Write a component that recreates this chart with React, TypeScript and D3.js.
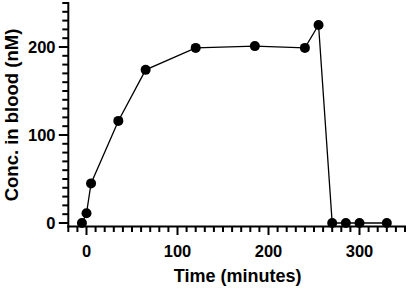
import React from "react";
import * as d3 from "d3";

const timeMinutes = [-5, 0, 5, 35, 65, 120, 185, 240, 255, 270, 285, 300, 330];
const concNM = [0, 11, 45, 116, 174, 199, 201, 199, 225, 0, 0, 0, 0];
const xMajorTicks = [0, 100, 200, 300];
const yMajorTicks = [0, 100, 200];
const xLabel = "Time (minutes)";
const yLabel = "Conc. in blood (nM)";

const W = 408;
const H = 290;
const font = "'Liberation Sans', Arial, sans-serif";

export default function App() {
  const x = d3.scaleLinear().domain([-20, 350]).range([68.3, 405]);
  const y = d3.scaleLinear().domain([-4, 250]).range([226.5, 3]);
  const xMinor = d3.range(-20, 351, 10);
  const yMinor = d3.range(0, 251, 10);
  const line = d3
    .line<number>()
    .x((_, i) => x(timeMinutes[i]))
    .y((d) => y(d));
  const axisY = y(-4);
  const axisX = x(-20);
  return (
    <svg width={W} height={H} style={{ position: "absolute", left: 0, top: 0 }}>
      <rect width={W} height={H} fill="#fff" />
      {/* x axis */}
      <line x1={axisX - 1} x2={x(350) + 1} y1={axisY} y2={axisY} stroke="#000" strokeWidth={2} />
      {xMinor.map((t) => (
        <line
          key={"xm" + t}
          x1={x(t)}
          x2={x(t)}
          y1={axisY}
          y2={axisY + (t % 100 === 0 ? 8.5 : 5.5)}
          stroke="#000"
          strokeWidth={2}
        />
      ))}
      {xMajorTicks.map((t) => (
        <text
          key={"xl" + t}
          x={x(t)}
          y={256.5}
          textAnchor="middle"
          fontFamily={font}
          fontWeight="bold"
          fontSize={16.5}
        >
          {t}
        </text>
      ))}
      {/* y axis */}
      <line x1={axisX} x2={axisX} y1={y(250) - 1} y2={axisY + 1} stroke="#000" strokeWidth={2} />
      {yMinor.map((t) => (
        <line
          key={"ym" + t}
          x1={axisX}
          x2={axisX - (t % 100 === 0 ? 9.5 : 6)}
          y1={y(t)}
          y2={y(t)}
          stroke="#000"
          strokeWidth={2}
        />
      ))}
      {yMajorTicks.map((t) => (
        <text
          key={"yl" + t}
          x={55.5}
          y={y(t)}
          dy="0.36em"
          textAnchor="end"
          fontFamily={font}
          fontWeight="bold"
          fontSize={16.5}
        >
          {t}
        </text>
      ))}
      {/* titles */}
      <text
        x={(x(-20) + x(350)) / 2 + 1}
        y={281.5}
        textAnchor="middle"
        fontFamily={font}
        fontWeight="bold"
        fontSize={18}
      >
        {xLabel}
      </text>
      <text
        transform={`translate(17.5,115) rotate(-90)`}
        textAnchor="middle"
        fontFamily={font}
        fontWeight="bold"
        fontSize={18.5}
      >
        {yLabel}
      </text>
      {/* data */}
      <path d={line(concNM) || ""} fill="none" stroke="#000" strokeWidth={1.3} />
      {concNM.map((c, i) => (
        <circle key={"p" + i} cx={x(timeMinutes[i])} cy={y(c)} r={5} fill="#000" />
      ))}
    </svg>
  );
}
